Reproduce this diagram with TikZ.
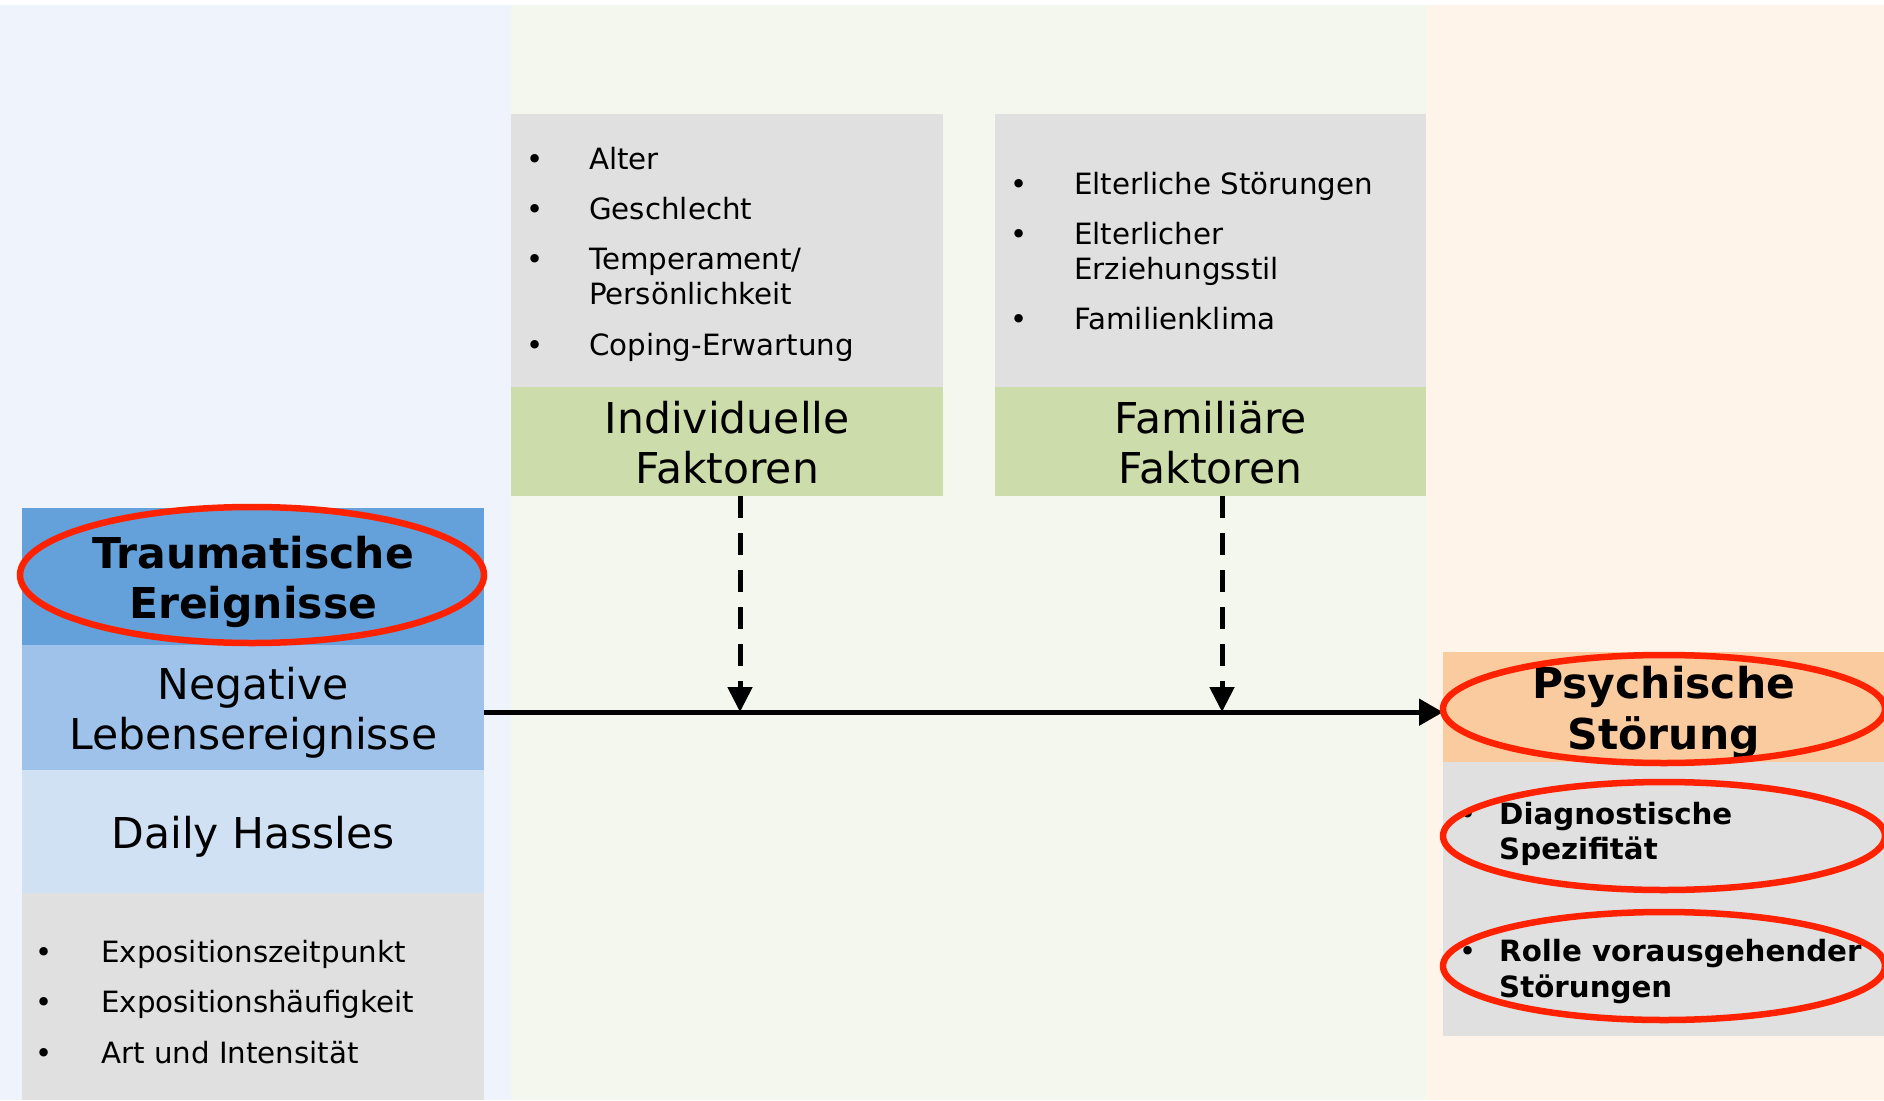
\documentclass[tikz,border=0pt]{standalone}
\usepackage{fontspec}
\setmainfont{DejaVu Sans}
\usetikzlibrary{arrows.meta}
\definecolor{bgleft}{HTML}{EFF3FB}
\definecolor{bgmid}{HTML}{F4F7EE}
\definecolor{bgright}{HTML}{FEF4EA}
\definecolor{boxgray}{HTML}{E0E0E0}
\definecolor{boxgreen}{HTML}{CDDCAB}
\definecolor{blueA}{HTML}{64A0DA}
\definecolor{blueB}{HTML}{9EC2EA}
\definecolor{blueC}{HTML}{D0E1F4}
\definecolor{peach}{HTML}{FBCBA0}
\definecolor{ringred}{HTML}{FF2200}
\begin{document}
\begin{tikzpicture}[x=1pt,y=-1pt,
  box/.style={rectangle, inner sep=0pt, anchor=north west, align=center},
  label text/.style={inner sep=0pt, align=center},
  big/.style={label text, font=\fontsize{42.5}{50.5}\selectfont},
  bigbold/.style={label text, font=\fontsize{42.5}{50.5}\selectfont\bfseries},
  txt/.style={inner sep=0pt, anchor=base west, font=\fontsize{29.3}{35}\selectfont},
  txtbold/.style={txt, font=\fontsize{29.3}{35}\selectfont\bfseries},
  dot/.style={inner sep=0pt, anchor=base, font=\fontsize{29}{35}\selectfont},
  ring/.style={draw=ringred, line width=6.5pt},
  flow/.style={line width=5pt, -{Triangle[length=24pt,width=26pt]}},
  influence/.style={line width=5pt, dash pattern=on 22pt off 15pt, -{Triangle[length=25pt,width=24pt]}}]
\useasboundingbox (0,0) rectangle (1884,1100);
\clip (0,0) rectangle (1884,1100);

% column backgrounds
\fill[white] (0,0) rectangle (1884,1100);
\fill[bgleft] (0,5) rectangle (511,1100);
\fill[bgmid] (511,5) rectangle (1426,1100);
\fill[bgright] (1426,5) rectangle (1884,1100);

% stressor column
\node[box, fill=blueA, minimum width=462pt, minimum height=137pt] (trauma) at (22,508) {};
\node[bigbold] (traumatxt) at ([yshift=-5pt]trauma.center) {Traumatische\\Ereignisse};
\node[box, fill=blueB, minimum width=462pt, minimum height=125pt] (neg) at (22,645) {};
\node[big] (negtxt) at ([yshift=-5pt]neg.center) {Negative\\Lebensereignisse};
\node[box, fill=blueC, minimum width=462pt, minimum height=123pt] (daily) at (22,770) {};
\node[big] (dailytxt) at ([yshift=-5pt]daily.center) {Daily Hassles};
\node[box, fill=boxgray, minimum width=462pt, minimum height=207pt] (expo) at (22,893) {};
\node[dot] (eb1) at (44,962) {\textbullet};
\node[txt] (e1) at (101,962) {Expositionszeitpunkt};
\node[dot] (eb2) at (44,1012) {\textbullet};
\node[txt] (e2) at (101,1012) {Expositionshäufigkeit};
\node[dot] (eb3) at (44,1063) {\textbullet};
\node[txt] (e3) at (101,1063) {Art und Intensität};

% individual factors
\node[box, fill=boxgray, minimum width=432pt, minimum height=273pt] (indlist) at (511,114) {};
\node[box, fill=boxgreen, minimum width=432pt, minimum height=109pt] (indlab) at (511,387) {};
\node[big] (indtxt) at ([yshift=-1pt]indlab.center) {Individuelle\\Faktoren};
\node[dot] (ib1) at (535,169) {\textbullet};
\node[txt] (i1) at (589,169) {Alter};
\node[dot] (ib2) at (535,219) {\textbullet};
\node[txt] (i2) at (589,219) {Geschlecht};
\node[dot] (ib3) at (535,269) {\textbullet};
\node[txt] (i3) at (589,269) {Temperament/};
\node[txt] (i3b) at (589,304) {Persönlichkeit};
\node[dot] (ib4) at (535,355) {\textbullet};
\node[txt] (i4) at (589,355) {Coping-Erwartung};

% family factors
\node[box, fill=boxgray, minimum width=431pt, minimum height=273pt] (famlist) at (995,114) {};
\node[box, fill=boxgreen, minimum width=431pt, minimum height=109pt] (famlab) at (995,387) {};
\node[big] (famtxt) at ([yshift=-1pt]famlab.center) {Familiäre\\Faktoren};
\node[dot] (fb1) at (1019,194) {\textbullet};
\node[txt] (f1) at (1074,194) {Elterliche Störungen};
\node[dot] (fb2) at (1019,244) {\textbullet};
\node[txt] (f2) at (1074,244) {Elterlicher};
\node[txt] (f2b) at (1074,279) {Erziehungsstil};
\node[dot] (fb3) at (1019,329) {\textbullet};
\node[txt] (f3) at (1074,329) {Familienklima};

% outcome column
\node[box, fill=peach, minimum width=441pt, minimum height=110pt] (psy) at (1443,652) {};
\node[bigbold] (psytxt) at ([yshift=-5pt]psy.center) {Psychische\\Störung};
\node[box, fill=boxgray, minimum width=441pt, minimum height=274pt] (psylist) at (1443,762) {};
\node[dot] (pb1) at (1468,824) {\textbullet};
\node[txtbold] (p1) at (1499,824) {Diagnostische};
\node[txtbold] (p1b) at (1499,859) {Spezifität};
\node[dot] (pb2) at (1468,961) {\textbullet};
\node[txtbold] (p2) at (1499,961) {Rolle vorausgehender};
\node[txtbold] (p2b) at (1499,997) {Störungen};

% connectors
\coordinate (hit1) at (740,712);
\coordinate (hit2) at (1222,712);
\draw[flow] ([yshift=-4.5pt]neg.east) -- ([yshift=-5pt]psy.west);
\draw[influence] (indlab.south -| hit1) -- (hit1);
\draw[influence] (famlab.south -| hit2) -- (hit2);

% highlight rings
\draw[ring] (252,575) ellipse [x radius=232pt, y radius=68pt];
\draw[ring] (1664,709) ellipse [x radius=221pt, y radius=54pt];
\draw[ring] (1664,836) ellipse [x radius=221pt, y radius=54pt];
\draw[ring] (1664,966) ellipse [x radius=221pt, y radius=54pt];
\end{tikzpicture}
\end{document}
